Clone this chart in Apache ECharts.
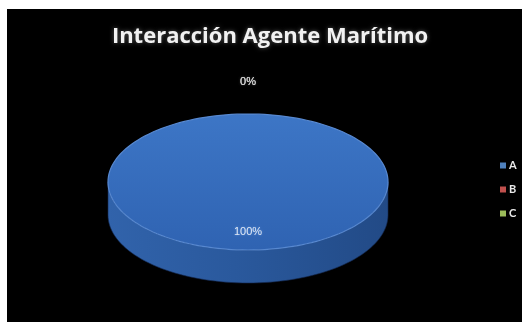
<!DOCTYPE html>
<html>
<head>
<meta charset="utf-8">
<script src="https://cdn.jsdelivr.net/npm/echarts@6/dist/echarts.min.js"></script>
<style>
  html, body { margin: 0; padding: 0; background: #ffffff; width: 522px; height: 322px; overflow: hidden; }
  #main { position: absolute; left: 7px; top: 9px; width: 515px; height: 313px; }
</style>
</head>
<body>
<div id="main"></div>
<script>
// Categories and their counts
const categories = ['A', 'B', 'C'];
const values = [100, 0, 0];
const colors = ['#4f81bd', '#c0504d', '#9bbb59'];
const titleText = 'Interacción Agente Marítimo';

// Tilted-disc geometry (chart pixels)
const CX = 241, CY = 173, RX = 140, RY = 68, DEPTH = 33;

const total = values.reduce((a, b) => a + b, 0);
const starts = [];
values.reduce((acc, v, i) => { starts[i] = acc; return acc + v; }, 0);

function pt(theta, dy, f) {
  // theta: radians clockwise from 12 o'clock
  f = f == null ? 1 : f;
  return [CX + f * RX * Math.sin(theta), CY - f * RY * Math.cos(theta) + (dy || 0)];
}

function arcPts(a, b, dy, n) {
  const out = [];
  for (let k = 0; k <= n; k++) out.push(pt(a + (b - a) * k / n, dy));
  return out;
}

function makeRender(idx) {
  return function (params, api) {
    const v = api.value(0);
    const children = [];
    const a0 = starts[idx] / total * Math.PI * 2;
    const a1 = (starts[idx] + v) / total * Math.PI * 2;
    const mid = (a0 + a1) / 2;
    const full = v >= total;

    if (v > 0) {
      // outer wall, only the front half is visible
      const lo = Math.max(a0, Math.PI / 2), hi = Math.min(a1, Math.PI * 1.5);
      if (hi > lo) {
        const top = arcPts(lo, hi, 0, 80);
        const bot = arcPts(hi, lo, DEPTH, 80);
        children.push({
          type: 'polygon',
          shape: { points: top.concat(bot) },
          style: {
            fill: new echarts.graphic.LinearGradient(0, 0, 1, 0, [
              { offset: 0, color: '#3163ab' },
              { offset: 0.45, color: '#2a599d' },
              { offset: 1, color: '#224a86' }
            ]),
            stroke: 'rgba(20,40,80,0.6)', lineWidth: 1
          }
        });
      }
      // top face
      const face = full ? arcPts(0, Math.PI * 2, 0, 160)
                        : [[CX, CY]].concat(arcPts(a0, a1, 0, 120));
      children.push({
        type: 'polygon',
        shape: { points: face },
        style: {
          fill: new echarts.graphic.LinearGradient(0, 0, 0, 1, [
            { offset: 0, color: '#3d76c6' },
            { offset: 1, color: '#2f63b2' }
          ]),
          stroke: '#5788d0', lineWidth: 1.2
        }
      });
    }

    // percentage label
    const pct = Math.round(v / total * 100) + '%';
    const lp = v > 0 ? pt(mid, 0, 0.72) : [CX, CY - RY - 33];
    children.push({
      type: 'text',
      z2: 10,
      style: {
        text: pct, x: lp[0], y: lp[1] + 1,
        fill: v > 0 ? '#dfe7f3' : '#cfcfcf',
        font: '11px "Liberation Sans Narrow", "Liberation Sans", sans-serif',
        align: 'center', verticalAlign: 'middle',
        textShadowColor: v > 0 ? 'rgba(120,170,240,0.7)' : 'rgba(255,255,255,0.15)',
        textShadowBlur: 2
      }
    });
    return { type: 'group', children: children };
  };
}

const chart = echarts.init(document.getElementById('main'), null, { renderer: 'canvas' });
chart.setOption({
  backgroundColor: '#000000',
  animation: false,
  title: {
    text: titleText,
    left: 258, top: 12, textAlign: 'center',
    textStyle: {
      color: '#f2f2f2', fontFamily: 'Open Sans', fontWeight: 'bold', fontSize: 22,
      textShadowColor: 'rgba(255,255,255,0.35)', textShadowBlur: 4
    }
  },
  legend: {
    orient: 'vertical',
    left: 488, top: 146,
    itemWidth: 6, itemHeight: 6, itemGap: 13,
    icon: 'rect',
    data: categories,
    textStyle: { color: '#e8e8e8', fontSize: 11, fontFamily: 'Lato', fontWeight: 'bold', padding: [0, 0, 0, -2] }
  },
  series: categories.map((name, i) => ({
    type: 'custom',
    name: name,
    coordinateSystem: 'none',
    itemStyle: { color: colors[i] },
    renderItem: makeRender(i),
    data: [[values[i]]],
    z: i === 0 ? 2 : 3
  }))
});
</script>
</body>
</html>
